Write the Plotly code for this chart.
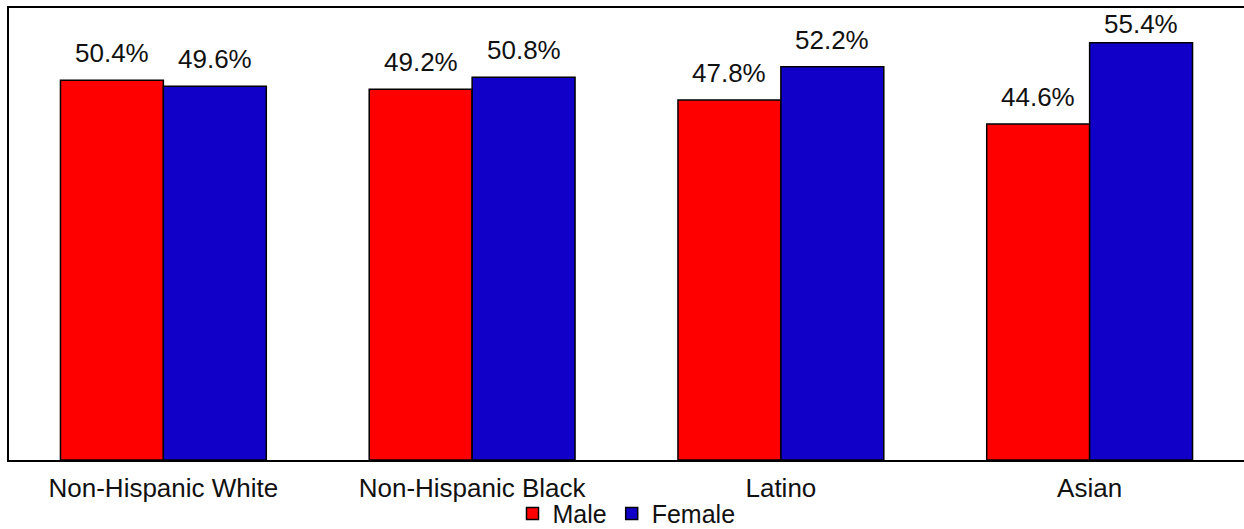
import plotly.graph_objects as go

categories = ["Non-Hispanic White", "Non-Hispanic Black", "Latino", "Asian"]
male = [50.4, 49.2, 47.8, 44.6]
female = [49.6, 50.8, 52.2, 55.4]

font_family = "Liberation Sans, Arial, sans-serif"
text_color = "#111111"
font_size = 26
y_max = 60
plot_height_px = 529 - 8 - 69
half_bar_px = 51.5   # half of one bar's drawn width, used to centre value labels
label_gap_px = 10    # space between a bar's top and its label box
label_box_px = 33    # height of a label box

fig = go.Figure()
fig.add_trace(go.Bar(
    name="Male", x=categories, y=male,
    marker=dict(color="#FF0000", line=dict(color="#000000", width=1.5)),
))
fig.add_trace(go.Bar(
    name="Female", x=categories, y=female,
    marker=dict(color="#1000C8", line=dict(color="#000000", width=1.5)),
))

# value labels above each bar, kept inside the plot frame
for values, side in ((male, -1), (female, 1)):
    for cat, v in zip(categories, values):
        headroom = (y_max - v) * plot_height_px / y_max
        fig.add_annotation(
            x=cat, y=v, text=f"{v:.1f}%", showarrow=False,
            xanchor="center", yanchor="bottom",
            xshift=side * half_bar_px,
            yshift=min(label_gap_px, headroom - label_box_px),
            font=dict(size=font_size, color=text_color, family=font_family),
        )

fig.update_layout(
    width=1244, height=529,
    margin=dict(l=9, r=0, t=8, b=69, autoexpand=False),
    paper_bgcolor="white", plot_bgcolor="white",
    barmode="group", bargap=1/3, bargroupgap=0,
    font=dict(family=font_family, size=font_size, color=text_color),
    showlegend=True,
    legend=dict(
        orientation="h", x=0.5, xanchor="center", y=-0.068, yanchor="top",
        font=dict(size=25, color=text_color),
        itemwidth=30, tracegroupgap=0,
        bgcolor="rgba(0,0,0,0)",
    ),
    xaxis=dict(
        showline=True, linecolor="#000000", linewidth=2, mirror=True,
        ticks="", tickfont=dict(size=font_size, color=text_color),
        ticklabelstandoff=4, showgrid=False, zeroline=False,
        automargin=False,
    ),
    yaxis=dict(
        range=[0, y_max], showline=True, linecolor="#000000", linewidth=2,
        showticklabels=False, ticks="", showgrid=False, zeroline=False,
        automargin=False,
    ),
)

fig.write_html("out.html")
